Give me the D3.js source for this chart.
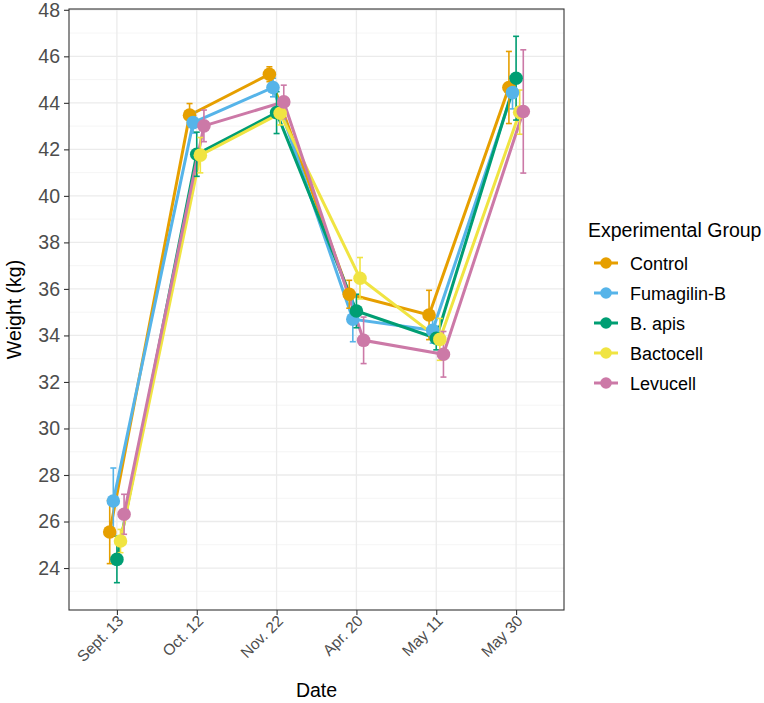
<!DOCTYPE html>
<html>
<head>
<meta charset="utf-8">
<script src="https://cdn.jsdelivr.net/npm/d3@7"></script>
<style>
  body { margin: 0; background: #fff; }
  svg { display: block; font-family: "Liberation Sans", Arial, sans-serif; }
</style>
</head>
<body>
<svg id="chart" width="764" height="703"></svg>
<script>
// ---- data ----
const dates = ["Sept. 13", "Oct. 12", "Nov. 22", "Apr. 20", "May 11", "May 30"];
const groups = ["Control", "Fumagilin-B", "B. apis", "Bactocell", "Levucell"];
const colors = ["#E69F00", "#56B4E9", "#009E73", "#F0E442", "#CC79A7"];
const controlMean    = [25.55, 43.47, 45.23, 35.77, 34.88, 44.66];
const controlSE      = [1.36, 0.50, 0.32, 0.60, 1.06, 1.55];
const fumagilinMean  = [26.88, 43.15, 44.66, 34.70, 34.22, 44.44];
const fumagilinSE    = [1.42, 0.45, 0.40, 0.97, 0.55, 0.70];
const bapisMean      = [24.37, 41.79, 43.58, 35.05, 33.88, 45.06];
const bapisSE        = [1.00, 0.95, 0.90, 0.72, 0.50, 1.80];
const bactocellMean  = [25.16, 41.75, 43.55, 36.46, 33.83, 43.60];
const bactocellSE    = [0.50, 0.76, 0.50, 0.89, 0.90, 0.95];
const levucellMean   = [26.31, 43.01, 44.04, 33.79, 33.19, 43.63];
const levucellSE     = [0.86, 0.68, 0.72, 1.00, 0.98, 2.65];
const yTicks = [24, 26, 28, 30, 32, 34, 36, 38, 40, 42, 44, 46, 48];

const means = [controlMean, fumagilinMean, bapisMean, bactocellMean, levucellMean];
const ses = [controlSE, fumagilinSE, bapisSE, bactocellSE, levucellSE];
const series = groups.map((g, gi) => ({
  name: g, color: colors[gi], gi,
  values: dates.map((d, di) => ({ di, date: d, mean: means[gi][di], se: ses[gi][di] }))
}));

// ---- layout ----
const svg = d3.select("#chart");
const P = { left: 69, right: 564, top: 9, bottom: 610 };

const xc = d3.scaleLinear().domain([-0.6, dates.length - 1 + 0.6]).range([P.left, P.right]);
const dodge = 0.045;
const xPos = (di, gi) => xc(di + (gi - 2) * dodge);

const all = series.flatMap(s => s.values);
const lo = d3.min(all, d => d.mean - d.se), hi = d3.max(all, d => d.mean + d.se);
const pad = (hi - lo) * 0.05;
const y = d3.scaleLinear().domain([lo - pad, hi + pad]).range([P.bottom, P.top]);

// grid
const g = svg.append("g");
const minor = d3.range(23, 49, 2).filter(v => v >= y.domain()[0] && v <= y.domain()[1]);
g.selectAll(".minor").data(minor).join("line")
  .attr("x1", P.left).attr("x2", P.right)
  .attr("y1", d => y(d)).attr("y2", d => y(d))
  .attr("stroke", "#f3f3f3").attr("stroke-width", 0.8);
g.selectAll(".major").data(yTicks).join("line")
  .attr("x1", P.left).attr("x2", P.right)
  .attr("y1", d => y(d)).attr("y2", d => y(d))
  .attr("stroke", "#ebebeb").attr("stroke-width", 1.3);
g.selectAll(".vmajor").data(dates).join("line")
  .attr("x1", (d, i) => xc(i)).attr("x2", (d, i) => xc(i))
  .attr("y1", P.top).attr("y2", P.bottom)
  .attr("stroke", "#ebebeb").attr("stroke-width", 1.3);

// lines
const line = d3.line().x(d => xPos(d.di, d.gi)).y(d => y(d.mean));
series.forEach(s => {
  svg.append("path")
    .datum(s.values.map(v => ({ ...v, gi: s.gi })))
    .attr("d", line).attr("fill", "none")
    .attr("stroke", s.color).attr("stroke-width", 3);
});

// error bars
const cap = 3;
series.forEach(s => {
  const eb = svg.append("g").attr("stroke", s.color).attr("stroke-width", 1.6);
  s.values.forEach(v => {
    const cx = xPos(v.di, s.gi);
    eb.append("line").attr("x1", cx).attr("x2", cx).attr("y1", y(v.mean - v.se)).attr("y2", y(v.mean + v.se));
    eb.append("line").attr("x1", cx - cap).attr("x2", cx + cap).attr("y1", y(v.mean - v.se)).attr("y2", y(v.mean - v.se));
    eb.append("line").attr("x1", cx - cap).attr("x2", cx + cap).attr("y1", y(v.mean + v.se)).attr("y2", y(v.mean + v.se));
  });
});

// points
series.forEach(s => {
  svg.append("g").selectAll("circle").data(s.values).join("circle")
    .attr("cx", d => xPos(d.di, s.gi)).attr("cy", d => y(d.mean))
    .attr("r", 6.8).attr("fill", s.color);
});

// panel border
svg.append("rect").attr("x", P.left).attr("y", P.top)
  .attr("width", P.right - P.left).attr("height", P.bottom - P.top)
  .attr("fill", "none").attr("stroke", "#333333").attr("stroke-width", 1.1);

// y axis
const yAxis = svg.append("g").attr("transform", `translate(${P.left},0)`)
  .call(d3.axisLeft(y).tickValues(yTicks).tickSize(5).tickPadding(4));
yAxis.select(".domain").remove();
yAxis.selectAll("line").attr("stroke", "#333333").attr("stroke-width", 1.1);
yAxis.selectAll("text").attr("fill", "#4d4d4d").style("font-size", "19.5px")
  .style("font-family", "Liberation Sans, Arial, sans-serif");

// x axis
const xAxisScale = d3.scalePoint().domain(dates).range([xc(0), xc(dates.length - 1)]);
const xAxis = svg.append("g").attr("transform", `translate(0,${P.bottom})`)
  .call(d3.axisBottom(xAxisScale).tickSize(5).tickPadding(3));
xAxis.select(".domain").remove();
xAxis.selectAll("line").attr("stroke", "#333333").attr("stroke-width", 1.1);
xAxis.selectAll("text")
  .attr("fill", "#4d4d4d").style("font-size", "15.5px")
  .style("font-family", "Liberation Sans, Arial, sans-serif")
  .attr("text-anchor", "end").attr("dy", null).attr("y", 0)
  .attr("transform", "translate(7,12) rotate(-45)");

// axis titles
svg.append("text").attr("x", (P.left + P.right) / 2).attr("y", 697)
  .attr("text-anchor", "middle").style("font-size", "19.5px").attr("fill", "#000").text("Date");
svg.append("text").attr("transform", `translate(21,${(P.top + P.bottom) / 2}) rotate(-90)`)
  .attr("text-anchor", "middle").style("font-size", "19.5px").attr("fill", "#000").text("Weight (kg)");

// legend
const lg = svg.append("g");
lg.append("text").attr("x", 588).attr("y", 237).style("font-size", "19.5px").attr("fill", "#000")
  .text("Experimental Group");
groups.forEach((name, i) => {
  const cy = 263 + i * 30;
  lg.append("line").attr("x1", 594).attr("x2", 618).attr("y1", cy).attr("y2", cy)
    .attr("stroke", colors[i]).attr("stroke-width", 3);
  lg.append("circle").attr("cx", 606).attr("cy", cy).attr("r", 5.8).attr("fill", colors[i]);
  lg.append("text").attr("x", 630).attr("y", cy + 6.5).style("font-size", "18px").attr("fill", "#000")
    .text(name);
});
</script>
</body>
</html>
